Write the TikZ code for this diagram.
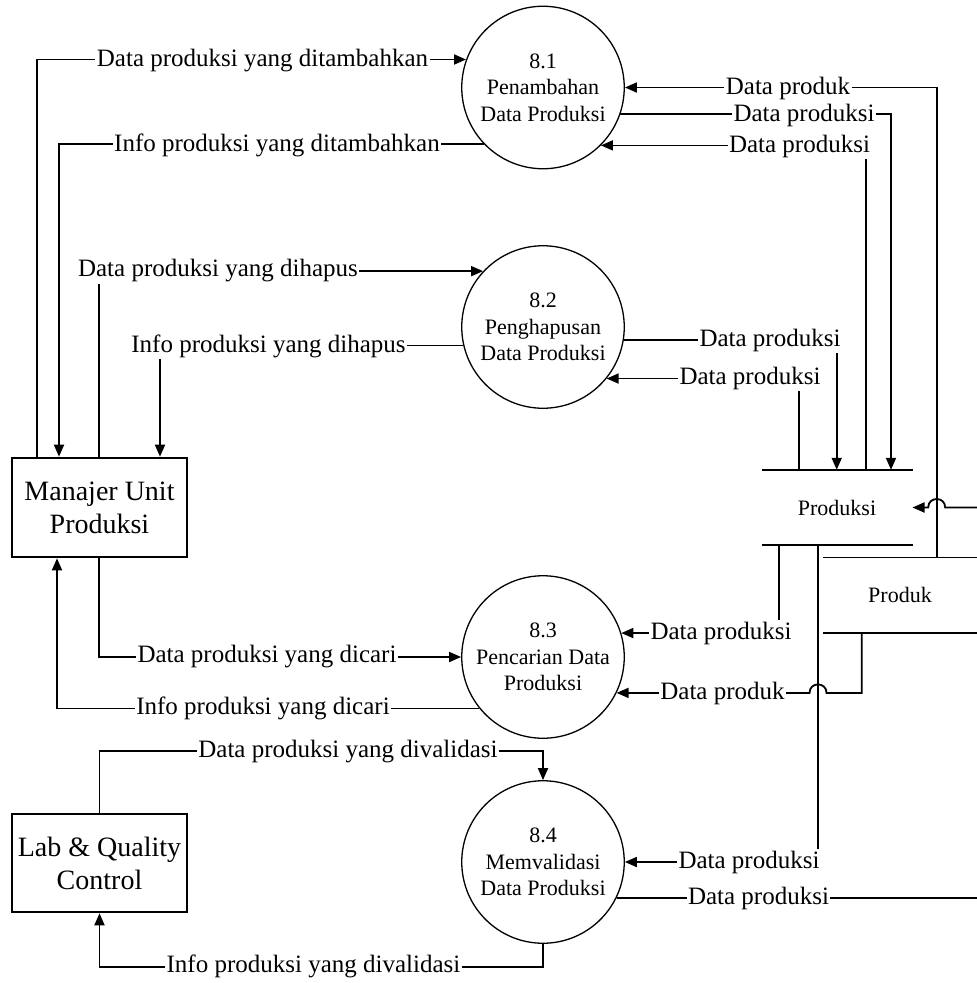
\documentclass[tikz,border=0pt]{standalone}
\usepackage{fontspec}
\setmainfont{Liberation Serif}
\usetikzlibrary{arrows.meta}
\begin{document}
\begin{tikzpicture}[x=1pt,y=-1pt,
  proc/.style={circle, draw, line width=1.3pt, minimum size=162.5pt, inner sep=0pt, align=center, font=\fontsize{22}{26.5}\selectfont},
  ent/.style={draw, line width=2.6pt, minimum width=175pt, inner sep=0pt, align=center, font=\fontsize{28}{33}\selectfont},
  lbl/.style={fill=white, inner sep=1.5pt, font=\fontsize{25}{29}\selectfont},
  flow/.style={line width=1.8pt, -{Triangle[length=12pt,width=10pt]}},
  plain/.style={line width=1.8pt},
  dstore/.style={inner sep=0pt, font=\fontsize{22}{26}\selectfont}
]
\useasboundingbox (0,0) rectangle (977,983);
\clip (0,0) rectangle (977,983);

% processes
\node[proc] (p1) at (543,87.5) {8.1\\Penambahan\\Data Produksi};
\node[proc] (p2) at (543,327) {8.2\\Penghapusan\\Data Produksi};
\node[proc] (p3) at (543,657) {8.3\\Pencarian Data\\Produksi};
\node[proc] (p4) at (543,862) {8.4\\Memvalidasi\\Data Produksi};

% external entities
\node[ent, minimum height=99pt] (mu) at (99.5,507.5) {Manajer Unit\\Produksi};
\node[ent, minimum height=98pt] (lq) at (99.5,863) {Lab \& Quality\\Control};

% data stores
\node[dstore, minimum width=150.6pt, minimum height=75pt] (ds1) at (837,507.5) {Produksi};
\node[dstore, minimum width=154pt, minimum height=75pt] (ds2) at (900,595.2) {Produk};
\draw[plain] (ds1.north west) -- (ds1.north east);
\draw[plain] (ds1.south west) -- (ds1.south east);
\draw[plain] (ds2.north west) -- (ds2.north east);
\draw[plain] (ds2.south west) -- (ds2.south east);

% helper coordinates
\path ([xshift=-19pt]ds1.south) coordinate (v1);
\path ([xshift=36.7pt]ds2.north) coordinate (v2);
\coordinate (j1) at (v1 |- p3.-26.4);
\coordinate (j2) at (v2 |- ds1.east);
\path ([xshift=12pt]ds2.east) coordinate (offr);
\path ([yshift=29.5pt]p4.north) coordinate (k1);
\path ([yshift=-23pt]p4.south) coordinate (k2);

% right side flows
\draw[flow] (v2) |- (p1.0);
\draw[flow] (p1.-19.5) -| ([xshift=54pt]ds1.north);
\draw[flow] ([xshift=28.7pt]ds1.north) |- (p1.-45.7);
\draw[flow] (p2.-9.2) -| ([xshift=-0.3pt]ds1.north);
\draw[flow] ([xshift=-37.7pt]ds1.north) |- (p2.-39);
\draw[flow] ([xshift=-57.7pt]ds1.south) |- (p3.17.7);
\draw[flow] ([xshift=-38.3pt]ds2.south) |- ([xshift=8.5pt]j1)
   .. controls +(0,-11.3) and +(0,-11.3) .. ([xshift=-8.5pt]j1) -- (p3.-26.4);
\draw[flow] (v1) |- (p4.0);
\draw[flow] (p4.-26.4) -| (offr |- ds1.east) -- ([xshift=8.5pt]j2)
   .. controls +(0,-11.3) and +(0,-11.3) .. ([xshift=-8.5pt]j2) -- (ds1.east);

% left side flows
\draw[flow] ([xshift=-62.5pt]mu.north) |- (p1.160.9);
\draw[flow] (p1.224.7) -| ([xshift=-40.5pt]mu.north);
\draw[flow] ([xshift=-0.5pt]mu.north) |- (p2.137.4);
\draw[flow] (p2.193.4) -| ([xshift=60.5pt]mu.north);
\draw[flow] ([xshift=-0.5pt]mu.south) |- (p3.180);
\draw[flow] (p3.219) -| ([xshift=-42.5pt]mu.south);
\draw[flow] (lq.north) |- (k1) -- (p4.north);
\draw[flow] (p4.south) -- (k2) -| (lq.south);

% labels
\node[lbl] (l1) at (788,88) {Data produk};
\node[lbl] (l2) at (804,115) {Data produksi};
\node[lbl] (l3) at (799.5,146) {Data produksi};
\node[lbl] (l4) at (770,340) {Data produksi};
\node[lbl] (l5) at (750,378) {Data produksi};
\node[lbl] (l6) at (721,633) {Data produksi};
\node[lbl] (l7) at (722.5,693) {Data produk};
\node[lbl] (l8) at (749,862) {Data produksi};
\node[lbl] (l9) at (758.5,898) {Data produksi};
\node[lbl] (l10) at (262.5,61) {Data produksi yang ditambahkan};
\node[lbl] (l11) at (277,145) {Info produksi yang ditambahkan};
\node[lbl] (l12) at (218,271) {Data produksi yang dihapus};
\node[lbl] (l13) at (268.5,346) {Info produksi yang dihapus};
\node[lbl] (l14) at (267,657) {Data produksi yang dicari};
\node[lbl] (l15) at (263,708) {Info produksi yang dicari};
\node[lbl] (l16) at (348,752) {Data produksi yang divalidasi};
\node[lbl] (l17) at (313.5,966) {Info produksi yang divalidasi};
\end{tikzpicture}
\end{document}
